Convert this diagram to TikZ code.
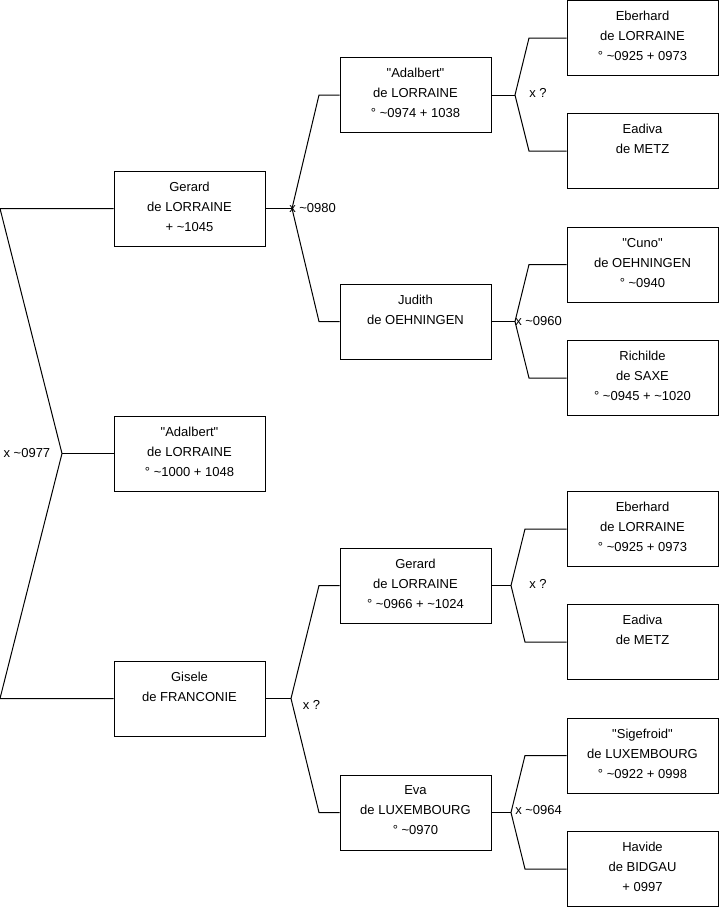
\documentclass[tikz,border=0pt]{standalone}
\usepackage{fontspec}
\setmainfont{Liberation Sans}
\usepackage{tikz}

\newcommand{\nick}[1]{\textquotedbl#1\textquotedbl}

\tikzset{
  person/.style={draw=black, line width=0.75pt, fill=white, minimum width=113.25pt,
    minimum height=56.25pt, inner sep=0pt, align=center,
    font=\fontsize{9.75}{15}\selectfont,
    execute at begin node={\rule{0pt}{7.5pt}},
    execute at end node={\rule[-3pt]{0pt}{3pt}}},
  wedlock/.style={inner sep=0pt, font=\fontsize{9.75}{12}\selectfont},
  link/.style={draw=black, line width=0.75pt}
}

\begin{document}
\begin{tikzpicture}[x=0.75pt,y=-0.75pt]

\useasboundingbox (0,0) rectangle (719,908);

% generation 1
\node[person] (g1) at (189.5,208.5) {Gerard\\de LORRAINE\\+ \textasciitilde1045};
\node[person] (a1) at (189.5,453.5) {\nick{Adalbert}\\de LORRAINE\\° \textasciitilde1000 + 1048};
\node[person] (gi) at (189.5,698.5) {Gisele\\de FRANCONIE\\};

% generation 2
\node[person] (ad) at (415.5,95) {\nick{Adalbert}\\de LORRAINE\\° \textasciitilde0974 + 1038};
\node[person] (ju) at (415.5,321.5) {Judith\\de OEHNINGEN\\};
\node[person] (g2) at (415.5,585.5) {Gerard\\de LORRAINE\\° \textasciitilde0966 + \textasciitilde1024};
\node[person] (ev) at (415.5,812.5) {Eva\\de LUXEMBOURG\\° \textasciitilde0970};

% generation 3
\node[person] (eb1) at (642.5,38) {Eberhard\\de LORRAINE\\° \textasciitilde0925 + 0973};
\node[person] (ea1) at (642.5,151) {Eadiva\\de METZ\\};
\node[person] (cu) at (642.5,264.5) {\nick{Cuno}\\de OEHNINGEN\\° \textasciitilde0940};
\node[person] (ri) at (642.5,378) {Richilde\\de SAXE\\° \textasciitilde0945 + \textasciitilde1020};
\node[person] (eb2) at (642.5,529) {Eberhard\\de LORRAINE\\° \textasciitilde0925 + 0973};
\node[person] (ea2) at (642.5,642) {Eadiva\\de METZ\\};
\node[person] (si) at (642.5,755.5) {\nick{Sigefroid}\\de LUXEMBOURG\\° \textasciitilde0922 + 0998};
\node[person] (ha) at (642.5,869) {Havide\\de BIDGAU\\+ 0997};

% parents of Adalbert
\coordinate (jL) at (62,453.5);
\coordinate (tL) at (0,208.5);
\coordinate (bL) at (0,698.5);
\draw[link] (g1.west) -- (tL) -- (jL) -- (bL) -- (gi.west);
\draw[link] (jL) -- (a1.west);
\node[wedlock, anchor=east] (m0) at (50.5,453.5) {x \textasciitilde0977};

% the other couples
\foreach \c/\f/\m/\jx/\bx in {g1/ad/ju/292/319, gi/g2/ev/291/319,
    ad/eb1/ea1/515/529, ju/cu/ri/515/529, g2/eb2/ea2/511/525, ev/si/ha/511/525} {
  \path (\jx,0) coordinate (x\c) (\bx,0) coordinate (y\c);
  \coordinate (j\c) at (\c.east -| x\c);
  \draw[link] (\c.east) -- (j\c);
  \draw[link] (\f.west) -- (\f.west -| y\c) -- (j\c) -- (\m.west -| y\c) -- (\m.west);
}

\node[wedlock, anchor=west] (m1) at (289,208.5) {x \textasciitilde0980};
\node[wedlock] (m2) at (311.5,705) {x ?};
\node[wedlock] (m3) at (538,93) {x ?};
\node[wedlock, anchor=west] (m4) at (515,321) {x \textasciitilde0960};
\node[wedlock] (m5) at (538,584) {x ?};
\node[wedlock, anchor=west] (m6) at (515,810) {x \textasciitilde0964};

\end{tikzpicture}
\end{document}
